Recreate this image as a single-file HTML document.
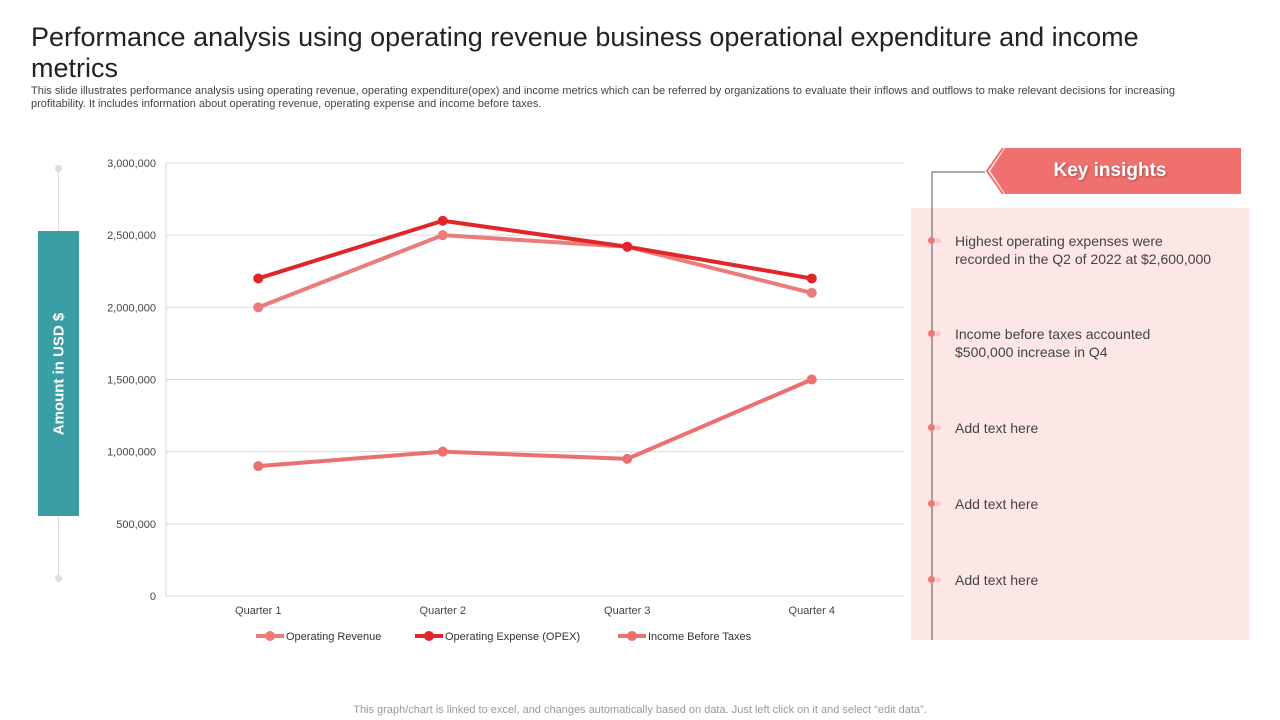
<!DOCTYPE html>
<html><head><meta charset="utf-8"><style>
body{margin:0;width:1280px;height:720px;background:#fff;font-family:"Liberation Sans",sans-serif;position:relative;overflow:hidden}
.abs{position:absolute}
</style></head><body>
<div class="abs" style="left:31px;top:22px;width:1110px;font-size:27px;line-height:31px;color:#222">Performance analysis using operating revenue business operational expenditure and income metrics</div>
<div class="abs" style="left:31px;top:85px;width:1195px;font-size:11px;line-height:12.5px;color:#444">This slide illustrates performance analysis using operating revenue, operating expenditure(opex) and income metrics which can be referred by organizations to evaluate their inflows and outflows to make relevant decisions for increasing profitability. It includes information about operating revenue, operating expense and income before taxes.</div>
<div class="abs" style="left:58px;top:168px;width:1px;height:410px;background:#ddd"></div>
<div class="abs" style="left:55px;top:165px;width:7px;height:7px;border-radius:50%;background:#ddd"></div>
<div class="abs" style="left:55px;top:575px;width:7px;height:7px;border-radius:50%;background:#ddd"></div>
<div class="abs" style="left:38px;top:231px;width:41px;height:285px;background:#3a9ea5"><div style="position:absolute;left:50%;top:50%;transform:translate(-50%,-50%) rotate(-90deg);white-space:nowrap;color:#fff;font-weight:bold;font-size:15px">Amount in USD $</div></div>
<svg class="abs" style="left:0;top:0" width="1280" height="720" id="chart"></svg>
<div class="abs" style="left:911px;top:208px;width:338px;height:432px;background:#fde6e6"></div>
<svg class="abs" style="left:0;top:0" width="1280" height="720">
<polyline points="932,640 932,172 985,172" fill="none" stroke="#555" stroke-width="1"/>
<polygon points="1005,148 1241,148 1241,194 1005,194 990,171" fill="#f07070"/>
<polyline points="1003,148 987,171 1003,194" fill="none" stroke="#f07070" stroke-width="2"/>
</svg>
<div class="abs" style="left:1005px;top:160px;width:210px;text-align:center;color:#fff;font-weight:bold;font-size:19px;text-shadow:1px 1px 2px rgba(0,0,0,.3)">Key insights</div>
<div id="ins"></div>
<div class="abs" style="left:0;top:704px;width:1280px;text-align:center;font-size:11px;color:#999">This graph/chart is linked to excel, and changes automatically based on data. Just left click on it and select “edit data”.</div>
<script>
const categories=["Quarter 1","Quarter 2","Quarter 3","Quarter 4"];
const revenue=[2000000,2500000,2420000,2100000];
const opex=[2200000,2600000,2420000,2200000];
const income=[900000,1000000,950000,1500000];
const yTicks=[0,500000,1000000,1500000,2000000,2500000,3000000];
const seriesNames=["Operating Revenue","Operating Expense (OPEX)","Income Before Taxes"];
const insights=["Highest operating expenses were<br>recorded in the Q2 of 2022 at $2,600,000","Income before taxes accounted<br>$500,000 increase in Q4","Add text here","Add text here","Add text here"];
const insightY=[240,333,427,503,579];
const svg=document.getElementById('chart');const NS='http://www.w3.org/2000/svg';
const L=166,R=904,T=163,B=596;
const y=v=>B-(v/3000000)*(B-T);
const x=i=>L+(R-L)/4*(i+0.5);
function mk(t,a){const e=document.createElementNS(NS,t);for(const k in a)e.setAttribute(k,a[k]);svg.appendChild(e);return e;}
yTicks.forEach(v=>{
 const g=mk('line',{x1:L,x2:R,y1:y(v),y2:y(v),stroke:'#d9d9d9'});
 
 
 const t=mk('text',{x:156,y:y(v)+4,'text-anchor':'end','font-size':11,fill:'#444'});t.textContent=v.toLocaleString('en-US');
 
 
});
const ax=mk('line',{x1:L,x2:L,y1:T,y2:B,stroke:'#d9d9d9'});
categories.forEach((c,i)=>{const t=mk('text',{x:x(i),y:614,'text-anchor':'middle','font-size':11,fill:'#444'});t.textContent=c;
 
 });
const series=[[revenue,'#ec7b7b',4],[income,'#ec7070',4],[opex,'#e0262a',4]];
series.forEach(([d,col,w],si)=>{
 const p=mk('polyline',{points:d.map((v,i)=>x(i)+','+y(v)).join(' '),fill:'none',stroke:col,'stroke-width':w});
 
 
 d.forEach((v,i)=>{const c=mk('circle',{cx:x(i),cy:y(v),r:5,fill:col});
 
 });
});
const legCols=['#ec7b7b','#e0262a','#ec7070'];const legX=[256,415,618];
seriesNames.forEach((n,i)=>{
 mk('line',{x1:legX[i],x2:legX[i]+28,y1:636,y2:636,stroke:legCols[i],'stroke-width':4});
 const c=mk('circle',{cx:legX[i]+14,cy:636,r:5,fill:legCols[i]});
 
 
 const t=mk('text',{x:legX[i]+30,y:640,'font-size':11,fill:'#333'});t.textContent=n;
 
 
});
const ins=document.getElementById('ins');
insights.forEach((s,i)=>{
 const d=document.createElement('div');
 
 
 d.className='abs';d.style.cssText=`left:928px;top:${insightY[i]-8}px;width:320px;font-size:14px;line-height:18px;color:#444`;
 d.innerHTML=`<span style="position:absolute;left:0;top:5px;width:7px;height:7px;border-radius:50%;background:#e77"></span><span style="position:absolute;left:7px;top:0;color:#f0a0a0;font-size:11px">»</span><div style="margin-left:27px">${s}</div>`;
 ins.appendChild(d);
});
</script>
</body></html>
